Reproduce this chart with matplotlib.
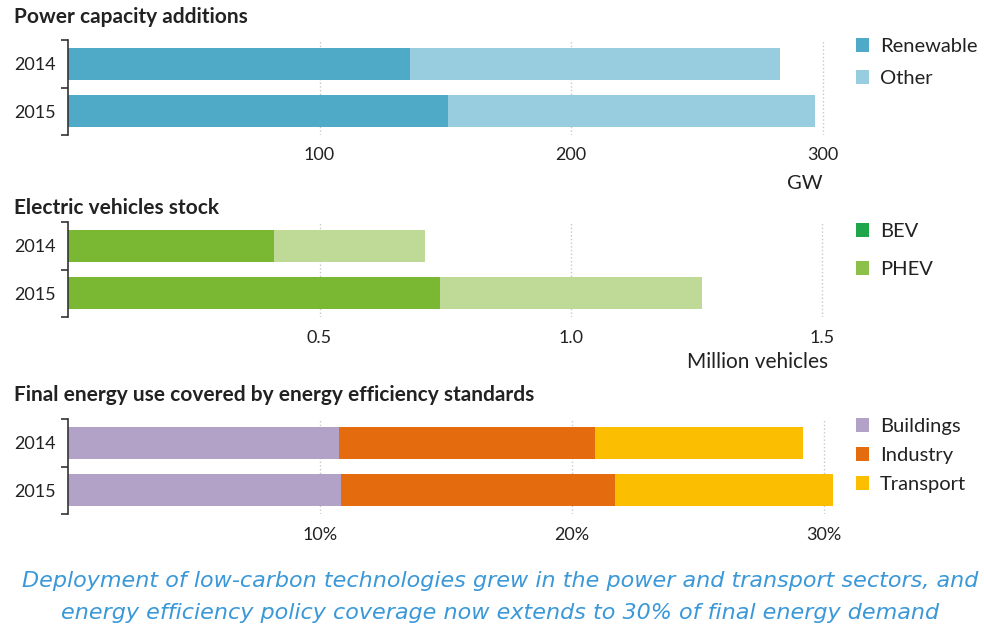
import matplotlib.pyplot as plt
from matplotlib.patches import Patch

W, H = 984, 627

years = ["2014", "2015"]

power_renewable = [136, 151]
power_other = [147, 146]

ev_first = [0.41, 0.74]
ev_second = [0.30, 0.52]

eff_buildings = [10.75, 10.85]
eff_industry = [10.15, 10.85]
eff_transport = [8.25, 8.65]

plt.rcParams["font.family"] = ["Lato", "DejaVu Sans"]
txt = "#222222"

fig = plt.figure(figsize=(W / 100, H / 100), dpi=100)


def px_axes(x0, y0, x1, y1):
    return fig.add_axes([x0 / W, 1 - y1 / H, (x1 - x0) / W, (y1 - y0) / H])


def panel(y0, y1, scale, ticks, ticklabels, series, colors):
    ax = px_axes(68, y0, 850, y1)
    pos = [0, 1]
    left = [0, 0]
    for vals, c in zip(series, colors):
        ax.barh(pos, vals, left=left, height=0.7, color=c, zorder=2)
        left = [a + b for a, b in zip(left, vals)]
    ax.set_xlim(0, (850 - 68) / scale)
    ax.set_ylim(1.51, -0.51)
    ax.set_xticks(ticks)
    ax.set_xticklabels(ticklabels, fontsize=13, color=txt)
    ax.tick_params(axis="x", length=0, pad=9)
    ax.grid(axis="x", color="#c8c8c8", ls=":", lw=1, zorder=0)
    ax.set_yticks([-0.5, 0.5, 1.5])
    ax.set_yticklabels([])
    ax.tick_params(axis="y", which="major", length=5, width=1.2, color="#333333")
    ax.set_yticks(pos, minor=True)
    ax.set_yticklabels(years, minor=True, fontsize=13, color=txt)
    ax.tick_params(axis="y", which="minor", length=0, pad=9)
    for s in ["top", "right", "bottom"]:
        ax.spines[s].set_visible(False)
    ax.spines["left"].set_color("#333333")
    ax.spines["left"].set_linewidth(1.2)
    return ax


def legend(ax, labels, colors, x, y, spacing):
    handles = [Patch(facecolor=c, edgecolor="none") for c in colors]
    ax.legend(handles, labels, loc="upper left", bbox_to_anchor=(x / W, 1 - y / H),
              bbox_transform=fig.transFigure, frameon=False, fontsize=14.5,
              handlelength=0.65, handleheight=0.65, handletextpad=0.55,
              labelspacing=spacing, borderaxespad=0, borderpad=0,
              labelcolor=txt)


# Power capacity additions
ax1 = panel(40, 135, 2.515, [100, 200, 300], ["100", "200", "300"],
            [power_renewable, power_other], ["#4eaac6", "#97cddf"])
legend(ax1, ["Renewable", "Other"], ["#4eaac6", "#97cddf"], 856, 38, 0.75)
fig.text(823 / W, 1 - 183 / H, "GW", ha="right", va="center", fontsize=14.5, color=txt)
fig.text(14 / W, 1 - 17 / H, "Power capacity additions", ha="left", va="center",
         fontsize=15, fontweight="bold", color=txt)

# Electric vehicles stock
ax2 = panel(222, 317, 503, [0.5, 1.0, 1.5], ["0.5", "1.0", "1.5"],
            [ev_first, ev_second], ["#7ab733", "#bfd996"])
legend(ax2, ["BEV", "PHEV"], ["#1fa64a", "#8cc04b"], 856, 223, 1.05)
fig.text(828 / W, 1 - 362 / H, "Million vehicles", ha="right", va="center",
         fontsize=15, color=txt)
fig.text(14 / W, 1 - 208 / H, "Electric vehicles stock", ha="left", va="center",
         fontsize=15, fontweight="bold", color=txt)

# Final energy use covered by energy efficiency standards
ax3 = panel(419, 514, 25.2, [10, 20, 30], ["10%", "20%", "30%"],
            [eff_buildings, eff_industry, eff_transport],
            ["#b3a2c8", "#e46c0e", "#fbbe00"])
legend(ax3, ["Buildings", "Industry", "Transport"], ["#b3a2c8", "#e46c0e", "#fbbe00"],
       856, 418, 0.6)
fig.text(14 / W, 1 - 395 / H, "Final energy use covered by energy efficiency standards",
         ha="left", va="center", fontsize=15, fontweight="bold", color=txt)

# caption
cap = dict(ha="center", va="center", fontsize=16, style="italic", color="#3a98d8",
           family="DejaVu Sans")
fig.text(500 / W, 1 - 581 / H,
         "Deployment of low-carbon technologies grew in the power and transport sectors, and",
         **cap)
fig.text(500 / W, 1 - 613 / H,
         "energy efficiency policy coverage now extends to 30% of final energy demand",
         **cap)

fig.savefig("out.png", dpi=100)
